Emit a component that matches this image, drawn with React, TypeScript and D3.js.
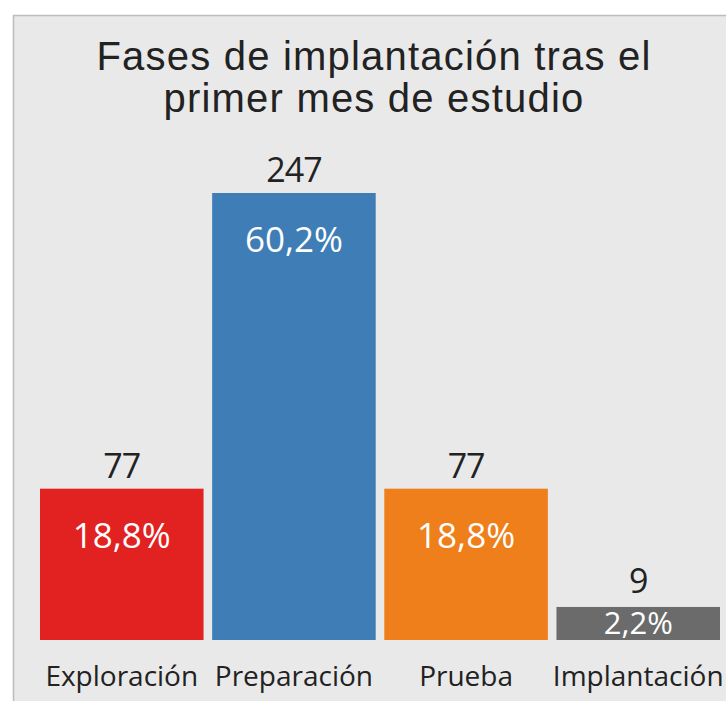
import React from "react";
import * as d3 from "d3";

const categories = ["Exploración", "Preparación", "Prueba", "Implantación"];
const counts = [77, 247, 77, 9];
const percents = ["18,8%", "60,2%", "18,8%", "2,2%"];
const colors = ["#e22121", "#3e7db5", "#ee7f1a", "#6b6b6b"];
const titleLines = ["Fases de implantación tras el", "primer mes de estudio"];

const W = 726;
const H = 701;

export default function App() {
  const x = d3.scaleBand<string>().domain(categories).range([40, 720]).paddingInner(0.05);
  const y = d3.scaleLinear().domain([-10, 247]).range([640, 193]);
  const font = "'Open Sans', 'Noto Sans', sans-serif";
  return (
    <svg width={W} height={H} style={{ position: "absolute", left: 0, top: 0 }}>
      <rect x={0} y={0} width={W} height={H} fill="#ffffff" />
      <rect x={13.5} y={15.5} width={W} height={H} fill="#e9e9e9" stroke="#bdbdbd" strokeWidth={1.5} />
      {titleLines.map((t, i) => (
        <text key={t} x={374} y={69.5 + i * 42.5} textAnchor="middle" fontFamily="'Liberation Sans', Arial, sans-serif" fontSize={40} letterSpacing={1.2} fill="#222">
          {t}
        </text>
      ))}
      {categories.map((c, i) => {
        const x0 = x(c)!;
        const bw = x.bandwidth();
        const top = y(counts[i]);
        const bottom = y(-10);
        const cx = x0 + bw / 2;
        const small = bottom - top < 80;
        const pctSize = small ? 31 : 35;
        const pctY = small ? (top + bottom) / 2 + pctSize * 0.34 : top + 59;
        return (
          <g key={c}>
            <rect x={x0} y={top} width={bw} height={bottom - top} fill={colors[i]} />
            <text x={cx} y={top - (small ? 14 : 11)} textAnchor="middle" fontFamily={font} fontSize={34} letterSpacing={-1} fill="#222">
              {counts[i]}
            </text>
            <text x={cx} y={pctY} textAnchor="middle" fontFamily={font} fontSize={pctSize} fill="#ffffff">
              {percents[i]}
            </text>
            <text x={cx} y={686} textAnchor="middle" fontFamily={font} fontSize={28} fill="#222">
              {c}
            </text>
          </g>
        );
      })}
    </svg>
  );
}
